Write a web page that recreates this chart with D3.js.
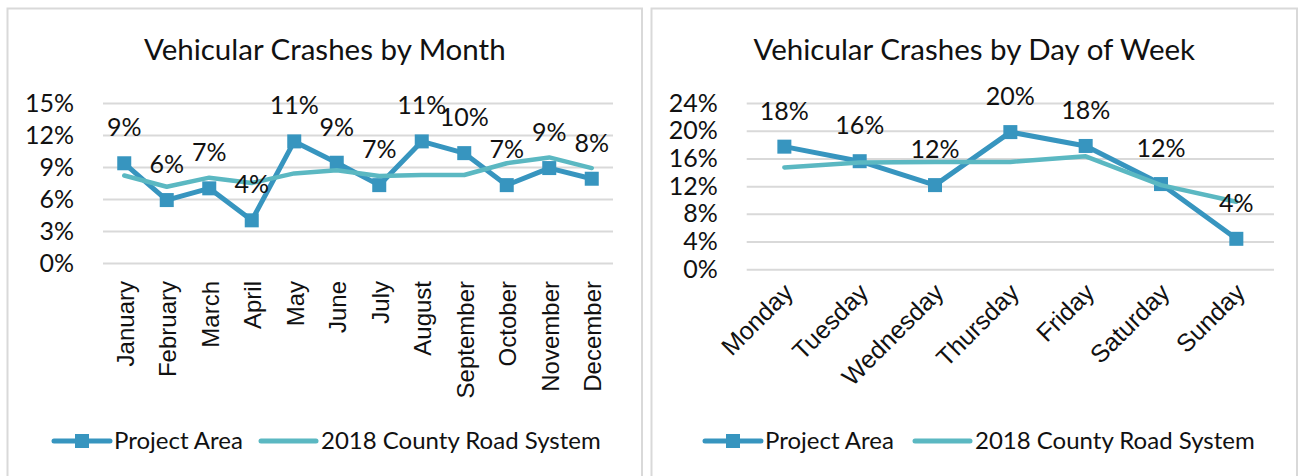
<!DOCTYPE html>
<html>
<head>
<meta charset="utf-8">
<script src="https://cdn.jsdelivr.net/npm/d3@7"></script>
<style>
  body { margin: 0; background: #fff; }
  svg { display: block; }
  text { font-family: Lato, "Open Sans", sans-serif; fill: #111; }
  .cat { font-family: "Liberation Sans", Arial, sans-serif; }
</style>
</head>
<body>
<div id="chart"></div>
<script>
// données (en %)
const months = ["January","February","March","April","May","June","July","August","September","October","November","December"];
const monthProject = [9.35, 5.9, 7.0, 4.0, 11.4, 9.4, 7.3, 11.4, 10.3, 7.3, 8.9, 7.9];
const monthCounty = [8.2, 7.15, 8.0, 7.5, 8.4, 8.7, 8.15, 8.25, 8.25, 9.35, 9.9, 8.9];
const monthTicks = [0, 3, 6, 9, 12, 15];

const days = ["Monday","Tuesday","Wednesday","Thursday","Friday","Saturday","Sunday"];
const dayProject = [17.7, 15.6, 12.15, 19.8, 17.8, 12.3, 4.4];
const dayCounty = [14.7, 15.4, 15.5, 15.5, 16.3, 12.15, 9.75];
const dayTicks = [0, 4, 8, 12, 16, 20, 24];

const seriesNames = ["Project Area", "2018 County Road System"];
const projectColor = "#3795bf";
const countyColor = "#5bb8c2";

const svg = d3.select("#chart").append("svg")
    .attr("width", 1301)
    .attr("height", 476);

function drawPanel(cfg) {
    const g = svg.append("g");

    // cadre du graphique
    g.append("rect")
        .attr("x", cfg.left).attr("y", 8.5)
        .attr("width", cfg.right - cfg.left).attr("height", 500)
        .attr("fill", "#fff")
        .attr("stroke", "#d9d9d9")
        .attr("stroke-width", 2);

    g.append("text")
        .attr("x", (cfg.left + cfg.right) / 2)
        .attr("y", 60)
        .attr("text-anchor", "middle")
        .style("font-size", "29.5px")
        .text(cfg.title);

    const x = d3.scalePoint()
        .domain(cfg.cats)
        .range(cfg.xRange)
        .padding(0.5);

    const y = d3.scaleLinear()
        .domain([0, d3.max(cfg.ticks)])
        .range(cfg.yRange);

    // axe y + quadrillage
    const yAxis = g.append("g")
        .attr("transform", "translate(" + cfg.xRange[0] + ",0)")
        .call(d3.axisLeft(y)
            .tickValues(cfg.ticks)
            .tickSize(-(cfg.xRange[1] - cfg.xRange[0]))
            .tickPadding(29)
            .tickFormat(d => d + "%"));
    yAxis.select(".domain").remove();
    yAxis.selectAll("line").attr("stroke", "#d9d9d9").attr("stroke-width", 2);
    yAxis.selectAll("text")
        .attr("fill", "#111")
        .style("font-family", "Lato, sans-serif")
        .style("font-size", "25px");

    // étiquettes des catégories
    g.selectAll(".cat")
        .data(cfg.cats)
        .enter()
        .append("text")
            .attr("class", "cat")
            .attr("text-anchor", "end")
            .attr("transform", d => "translate(" + (x(d) + cfg.catDx) + "," + cfg.catY + ")rotate(" + cfg.angle + ")")
            .attr("dy", "0.35em")
            .style("font-size", cfg.catSize)
            .text(d => d);

    const line = d3.line()
        .x((d, i) => x(cfg.cats[i]))
        .y(d => y(d));

    g.append("path")
        .datum(cfg.project)
        .attr("d", line)
        .attr("fill", "none")
        .attr("stroke", projectColor)
        .attr("stroke-width", 5)
        .attr("stroke-linejoin", "round");

    g.selectAll(".marker")
        .data(cfg.project)
        .enter()
        .append("rect")
            .attr("class", "marker")
            .attr("x", (d, i) => x(cfg.cats[i]) - 7)
            .attr("y", d => y(d) - 7)
            .attr("width", 14)
            .attr("height", 14)
            .attr("fill", projectColor);

    g.append("path")
        .datum(cfg.county)
        .attr("d", line)
        .attr("fill", "none")
        .attr("stroke", countyColor)
        .attr("stroke-width", 4.5)
        .attr("stroke-linejoin", "round")
        .attr("stroke-linecap", "round");

    // étiquettes de données
    g.selectAll(".lbl")
        .data(cfg.project)
        .enter()
        .append("text")
            .attr("class", "lbl")
            .attr("x", (d, i) => x(cfg.cats[i]))
            .attr("y", d => y(d) - 27)
            .attr("text-anchor", "middle")
            .style("font-size", "25px")
            .text(d => Math.round(d) + "%");

    // légende
    const leg = g.append("g").attr("transform", "translate(0,441)");
    leg.append("line")
        .attr("x1", cfg.legX[0]).attr("x2", cfg.legX[0] + 56)
        .attr("stroke", projectColor).attr("stroke-width", 5).attr("stroke-linecap", "round");
    leg.append("rect")
        .attr("x", cfg.legX[0] + 21).attr("y", -7)
        .attr("width", 14).attr("height", 14)
        .attr("fill", projectColor);
    leg.append("text")
        .attr("x", cfg.legX[0] + 60).attr("dy", "0.35em")
        .style("font-size", "24px")
        .text(seriesNames[0]);
    leg.append("line")
        .attr("x1", cfg.legX[1]).attr("x2", cfg.legX[1] + 55)
        .attr("stroke", countyColor).attr("stroke-width", 5).attr("stroke-linecap", "round");
    leg.append("text")
        .attr("x", cfg.legX[1] + 60).attr("dy", "0.35em")
        .style("font-size", "24px")
        .text(seriesNames[1]);
}

drawPanel({
    left: 7.5, right: 642,
    title: "Vehicular Crashes by Month",
    cats: months, project: monthProject, county: monthCounty, ticks: monthTicks,
    xRange: [103, 613], yRange: [263, 103],
    catY: 281, catDx: 1, angle: -90, catSize: "24px",
    legX: [54, 261]
});

drawPanel({
    left: 651.5, right: 1297,
    title: "Vehicular Crashes by Day of Week",
    cats: days, project: dayProject, county: dayCounty, ticks: dayTicks,
    xRange: [746.7, 1274], yRange: [269.3, 103],
    catY: 288, catDx: 4, angle: -45, catSize: "25px",
    legX: [705, 915]
});
</script>
</body>
</html>
